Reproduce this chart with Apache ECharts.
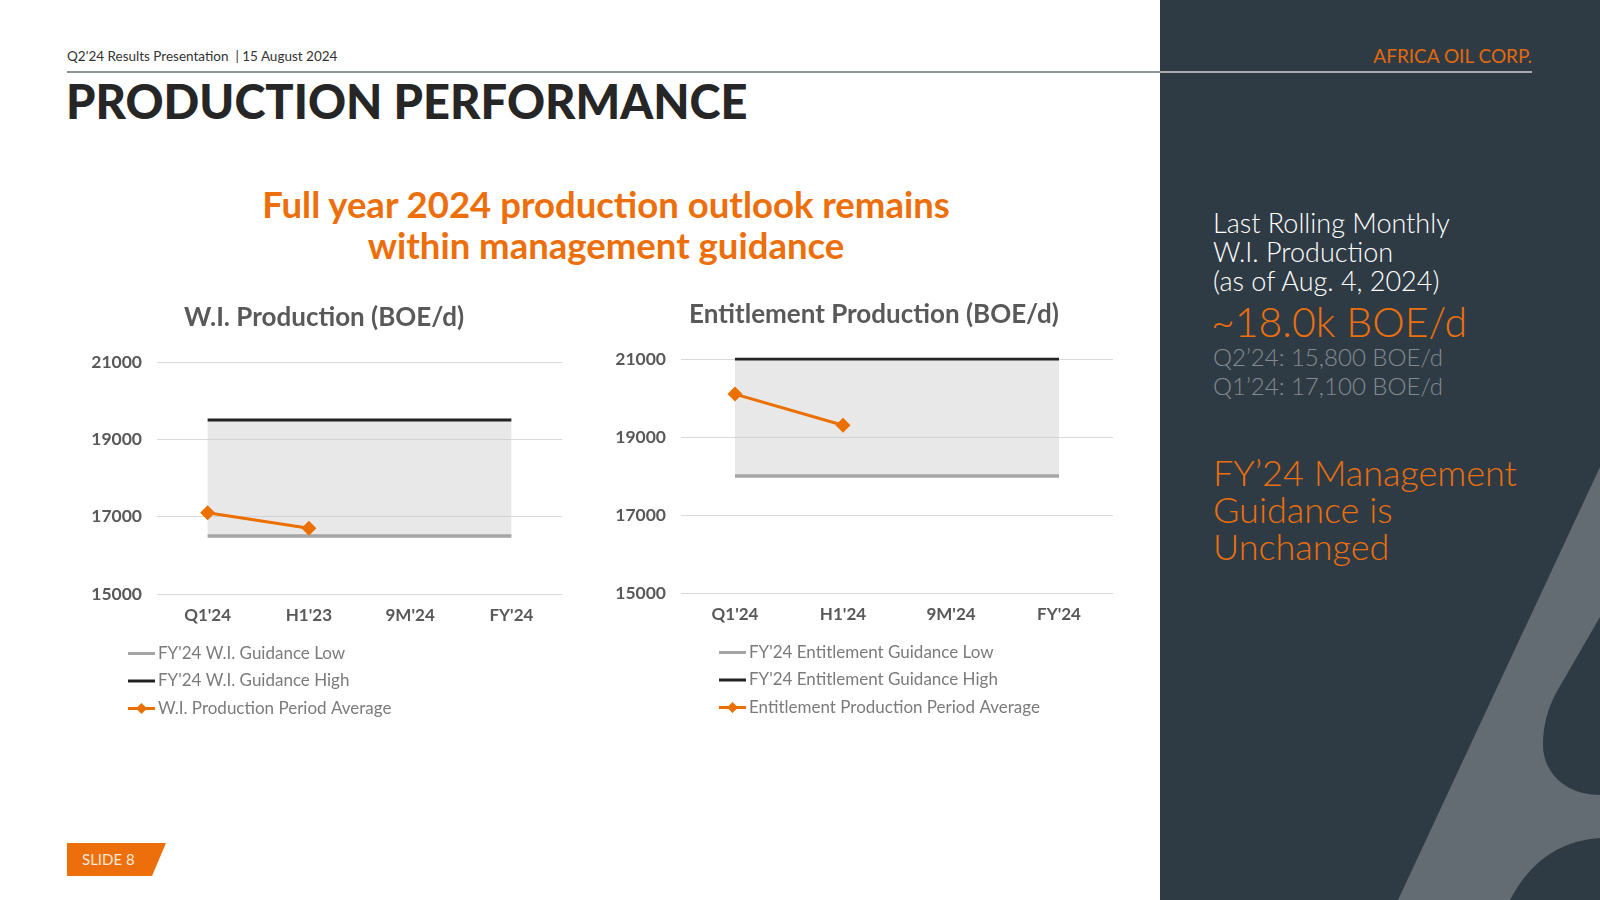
<!DOCTYPE html>
<html>
<head>
<meta charset="utf-8">
<script src="https://cdn.jsdelivr.net/npm/echarts@6/dist/echarts.min.js"></script>
<style>
  html, body { margin: 0; padding: 0; background: #ffffff; }
  #slide { position: relative; width: 1600px; height: 900px; overflow: hidden; background: #ffffff; font-family: 'Lato', 'Noto Sans', sans-serif; }
  #panel { position: absolute; left: 1160px; top: 0; width: 440px; height: 900px; background: #2f3b44; }
  #logo { position: absolute; left: 0; top: 0; }
  .t { position: absolute; white-space: nowrap; }
  #chart { position: absolute; left: 0; top: 0; width: 1600px; height: 900px; }
</style>
</head>
<body>
<div id="slide">
  <div id="panel"></div>
  <svg id="logo" width="1600" height="900" viewBox="0 0 1600 900">
    <path d="M1600,467 L1398,900 L1510,900 Q1540,842 1600,838 L1600,795 C1565,795 1543,772 1543,745 C1543,725 1548,708 1556,693 L1600,617 Z" fill="#636b73"/>
    <rect x="67" y="71" width="1093" height="2" fill="#8d9497"/>
    <rect x="1160" y="71" width="372" height="2" fill="#a7abaf"/>
    <polygon points="67,843 166,843 152,876 67,876" fill="#ec6f0c"/>
  </svg>
  <div class="t" style="left:67px; top:48px; font-size:13.5px; color:#333;">Q2'24 Results Presentation &nbsp;| 15 August 2024</div>
  <div class="t" style="left:66px; top:73px; font-size:47px; font-weight:900; color:#262626; letter-spacing:0px;">PRODUCTION PERFORMANCE</div>
  <div class="t" style="right:68px; top:44px; font-size:19px; font-weight:400; color:#e0690c;">AFRICA OIL CORP.</div>
  <div class="t" style="left:0; width:1212px; top:184px; text-align:center; font-size:36.5px; font-weight:700; color:#ec6f0c; line-height:41px;">Full year 2024 production outlook remains<br>within management guidance</div>
  <div class="t" style="left:1213px; top:208px; font-size:27px; font-weight:300; color:#ffffff; line-height:29px;">Last Rolling Monthly<br>W.I. Production<br>(as of Aug. 4, 2024)</div>
  <div class="t" style="left:1211px; top:297px; font-size:41px; font-weight:300; color:#ec6f0c;">~18.0k BOE/d</div>
  <div class="t" style="left:1213px; top:342px; font-size:24px; font-weight:300; color:#838b92; line-height:29px;">Q2’24: 15,800 BOE/d<br>Q1’24: 17,100 BOE/d</div>
  <div class="t" style="left:1213px; top:454px; font-size:36px; font-weight:300; color:#ec6f0c; line-height:37px;">FY’24 Management<br>Guidance is<br>Unchanged</div>
  <div class="t" style="left:82px; top:850px; font-size:15px; color:#fde9d9;">SLIDE 8</div>
  <div id="chart"></div>
</div>
<script>
// ---- data ----
const wiCategories = ["Q1'24", "H1'23", "9M'24", "FY'24"];
const wiLow = [16500, 16500, 16500, 16500];
const wiHigh = [19500, 19500, 19500, 19500];
const wiAverage = [17100, 16700, null, null];

const entCategories = ["Q1'24", "H1'24", "9M'24", "FY'24"];
const entLow = [18000, 18000, 18000, 18000];
const entHigh = [21000, 21000, 21000, 21000];
const entAverage = [20100, 19300, null, null];

const yMin = 15000, yMax = 21000, yStep = 2000;

const wiNames = ["FY'24 W.I. Guidance Low", "FY'24 W.I. Guidance High", "W.I. Production Period Average"];
const entNames = ["FY'24 Entitlement Guidance Low", "FY'24 Entitlement Guidance High", "Entitlement Production Period Average"];

// ---- chart ----
const FONT = 'Lato';
const chart = echarts.init(document.getElementById('chart'), null, { renderer: 'canvas' });

const LINE_ICON = 'path://M0,0 L27,0 L27,3 L0,3 Z';
const DIAMOND_ICON = 'path://M0,5.5 L9.5,5.5 L13.5,1.5 L17.5,5.5 L27,5.5 L27,8.5 L17.5,8.5 L13.5,12.5 L9.5,8.5 L0,8.5 Z';

function yAxis(gi) {
  return {
    type: 'value', gridIndex: gi, min: yMin, max: yMax, interval: yStep,
    axisLine: { show: false }, axisTick: { show: false },
    splitLine: { lineStyle: { color: '#d9d9d9', width: 1 } },
    axisLabel: { color: '#595959', fontSize: 17.5, fontWeight: 'bold', fontFamily: FONT, margin: 15,
      formatter: v => String(v) }
  };
}
function xAxis(gi, cats) {
  return {
    type: 'category', gridIndex: gi, data: cats, boundaryGap: true,
    axisLine: { show: false }, axisTick: { show: false },
    axisLabel: { color: '#595959', fontSize: 17, fontWeight: 'bold', fontFamily: FONT, margin: 13 }
  };
}
function seriesFor(gi, low, high, avg, names, stackId) {
  const diff = high.map((h, i) => h - low[i]);
  return [
    { type: 'line', xAxisIndex: gi, yAxisIndex: gi, stack: stackId, data: low, symbol: 'none',
      lineStyle: { opacity: 0 }, silent: true, z: 1 },
    { type: 'line', xAxisIndex: gi, yAxisIndex: gi, stack: stackId, data: diff, symbol: 'none',
      lineStyle: { opacity: 0 }, areaStyle: { color: 'rgba(200,200,200,0.42)', opacity: 1 }, silent: true, z: 1 },
    { name: names[0], type: 'line', xAxisIndex: gi, yAxisIndex: gi, data: low, symbol: 'none',
      lineStyle: { color: '#a5a5a5', width: 3.5 }, itemStyle: { color: '#a5a5a5' }, z: 3 },
    { name: names[1], type: 'line', xAxisIndex: gi, yAxisIndex: gi, data: high, symbol: 'none',
      lineStyle: { color: '#222222', width: 3 }, itemStyle: { color: '#222222' }, z: 3 },
    { name: names[2], type: 'line', xAxisIndex: gi, yAxisIndex: gi, data: avg, symbol: 'diamond', symbolSize: 15,
      connectNulls: false,
      lineStyle: { color: '#ec7000', width: 3 }, itemStyle: { color: '#ec7000' }, z: 4 }
  ];
}
function legend(names, left, top) {
  return {
    data: [
      { name: names[0], icon: LINE_ICON },
      { name: names[1], icon: LINE_ICON },
      { name: names[2], icon: DIAMOND_ICON }
    ],
    orient: 'vertical', left: left, top: top, itemWidth: 27, itemHeight: 14, itemGap: 10.5, padding: 0,
    textStyle: { color: '#7b7b7b', fontSize: 17, fontFamily: FONT, padding: [0, 0, 0, -2] }, selectedMode: false
  };
}

const option = {
  animation: false,
  backgroundColor: 'transparent',
  title: [
    { text: 'W.I. Production (BOE/d)', left: 319, top: 300, textAlign: 'center',
      textStyle: { color: '#595959', fontSize: 26, fontWeight: 'bold', fontFamily: FONT } },
    { text: 'Entitlement Production (BOE/d)', left: 869, top: 297, textAlign: 'center',
      textStyle: { color: '#595959', fontSize: 26, fontWeight: 'bold', fontFamily: FONT } }
  ],
  grid: [
    { left: 157, width: 405, top: 362, height: 232 },
    { left: 681, width: 432, top: 359, height: 234 }
  ],
  xAxis: [xAxis(0, wiCategories), xAxis(1, entCategories)],
  yAxis: [yAxis(0), yAxis(1)],
  legend: [legend(wiNames, 128, 645), legend(entNames, 719, 644)],
  series: [].concat(
    seriesFor(0, wiLow, wiHigh, wiAverage, wiNames, 'bandWI'),
    seriesFor(1, entLow, entHigh, entAverage, entNames, 'bandEnt')
  )
};
chart.setOption(option);
</script>
</body>
</html>
